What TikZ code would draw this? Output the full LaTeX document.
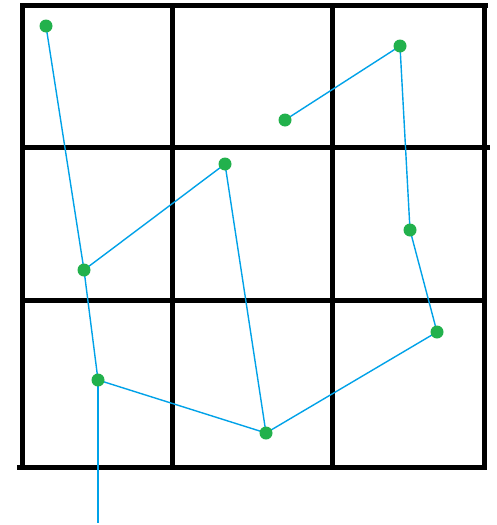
\documentclass[tikz,border=0pt]{standalone}
\usetikzlibrary{backgrounds}
\definecolor{dotgreen}{RGB}{34,177,76}
\definecolor{lineblue}{RGB}{0,162,232}
\pgfdeclarelayer{gridlayer}
\pgfsetlayers{gridlayer,background,main}
\begin{document}
\begin{tikzpicture}[x=1pt,y=-1pt,
  dot/.style={circle,fill=dotgreen,inner sep=0pt,minimum size=13pt},
  gridline/.style={line width=5pt,black},
  link/.style={lineblue,line width=1.4pt}]
\useasboundingbox (0,0) rectangle (496,525);
\begin{pgfonlayer}{gridlayer}
  \fill[white] (0,0) rectangle (496,525);
  \draw[gridline] (22,3) -- (22,469);
  \draw[gridline] (172,3) -- (172,467);
  \draw[gridline] (332,3) -- (332,467);
  \draw[gridline] (484,3) -- (484,469);
  \draw[gridline] (20,5.5) -- (488,5.5);
  \draw[gridline] (20,147.5) -- (490,147.5);
  \draw[gridline] (20,300) -- (487,300);
  \draw[gridline] (17,467) -- (487,467);
\end{pgfonlayer}
\node[dot] (p1) at (46,26) {};
\node[dot] (p2) at (400,46) {};
\node[dot] (p3) at (285,120) {};
\node[dot] (p4) at (225,164) {};
\node[dot] (p5) at (410,230) {};
\node[dot] (p6) at (84,270) {};
\node[dot] (p7) at (437,332) {};
\node[dot] (p8) at (98,380) {};
\node[dot] (p9) at (266,433) {};
\coordinate (end) at (98,523);
\begin{pgfonlayer}{background}
  \draw[link] (p1.center) -- (p6.center);
  \draw[link] (p6.center) -- (p8.center);
  \draw[link] (p6.center) -- (p4.center);
  \draw[link] (p4.center) -- (p9.center);
  \draw[link] (p9.center) -- (p8.center);
  \draw[link] (p8.center) -- (end);
  \draw[link] (p9.center) -- (p7.center);
  \draw[link] (p7.center) -- (p5.center);
  \draw[link] (p5.center) -- (p2.center);
  \draw[link] (p2.center) -- (p3.center);
\end{pgfonlayer}
\end{tikzpicture}
\end{document}
